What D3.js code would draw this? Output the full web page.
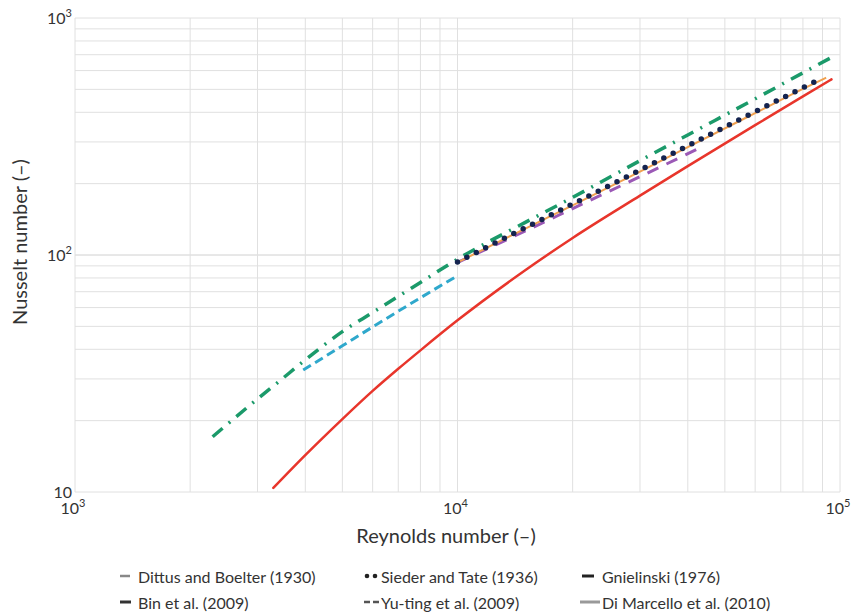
<!DOCTYPE html>
<html><head><meta charset="utf-8">
<script src="https://cdn.jsdelivr.net/npm/d3@7"></script>
<style>
body{margin:0;background:#fff;}
text{font-family:Lato,"Open Sans",sans-serif;fill:#333;}
</style></head>
<body><svg id="c" width="856" height="613"></svg>
<script>
// ---- data ----
const reTicks = [1e3, 1e4, 1e5];
const nuTicks = [10, 100, 1000];
const tickExp = ["3", "4", "5"];
const nuTickLabels = [["10", ""], ["10", "2"], ["10", "3"]];

// Dittus and Boelter (orange, under dots)
const dittusRe = [10000, 15000, 20000, 30000, 40000, 60000, 80000, 92000];
const dittusNu = [93, 129, 162, 225, 285, 397, 502, 560];
// Sieder and Tate (navy dots)
const siederRe = [10000, 15000, 20000, 30000, 40000, 60000, 80000, 89000];
const siederNu = [93.5, 130, 164, 228, 289, 402, 508, 553];
// Gnielinski (green dash-dot)
const gnielRe = [2290, 3000, 3400, 4000, 5000, 6000, 8000, 10000, 15000, 20000, 30000, 40000, 60000, 80000, 98000];
const gnielNu = [17.1, 24.7, 29.1, 36.1, 47.5, 57.2, 76.6, 96, 137, 175, 250, 321, 456, 587, 700];
// Bin et al. (purple dashed)
const binRe = [10000, 15000, 20000, 30000, 43000];
const binNu = [93, 126, 157, 214, 283];
// Yu-ting et al. (cyan dashed)
const yutingRe = [3950, 5000, 6000, 8000, 9900];
const yutingNu = [32.7, 41.4, 49.7, 66, 81];
// Di Marcello et al. (red solid)
const marcRe = [3300, 4000, 5000, 6000, 7000, 8000, 10000, 15000, 20000, 30000, 40000, 60000, 80000, 95000];
const marcNu = [10.4, 14.3, 20.3, 26.7, 33.1, 39.6, 53, 86, 118, 178, 237, 353, 467, 551];

const legendNames = ["Dittus and Boelter (1930)", "Sieder and Tate (1936)", "Gnielinski (1976)",
                     "Bin et al. (2009)", "Yu-ting et al. (2009)", "Di Marcello et al. (2010)"];

// ---- chart ----
const svg = d3.select("#c");
const x = d3.scaleLog().domain([1e3, 1e5]).range([75, 840]);
const y = d3.scaleLog().domain([10, 1000]).range([492, 18]);

// grid
const g = svg.append("g");
const xMinor = [];
for (let d = 1e3; d < 1e5; d *= 10) for (let k = 1; k <= 10; k++) xMinor.push(d * k);
const yMinor = [];
for (let d = 10; d < 1000; d *= 10) for (let k = 1; k <= 10; k++) yMinor.push(d * k);
g.selectAll(".vx").data(xMinor).join("line")
  .attr("x1", d => x(d)).attr("x2", d => x(d)).attr("y1", y(10)).attr("y2", y(1000))
  .attr("stroke", "#e0e0e0").attr("stroke-width", 1);
g.selectAll(".hy").data(yMinor).join("line")
  .attr("y1", d => y(d)).attr("y2", d => y(d)).attr("x1", x(1e3)).attr("x2", x(1e5))
  .attr("stroke", "#e0e0e0").attr("stroke-width", 1);

// tick labels
reTicks.forEach((t, i) => {
  const tx = svg.append("text").attr("x", x(t) - 2).attr("y", 514).attr("text-anchor", "middle")
    .style("font-size", "16px");
  tx.append("tspan").text("10");
  tx.append("tspan").attr("dy", -7).style("font-size", "11px").text(tickExp[i]);
});
nuTicks.forEach((t, i) => {
  const tx = svg.append("text").attr("x", 72).attr("y", y(t) + 6).attr("text-anchor", "end")
    .style("font-size", "16px");
  tx.append("tspan").text(nuTickLabels[i][0]);
  if (nuTickLabels[i][1]) tx.append("tspan").attr("dy", -7).style("font-size", "11px").text(nuTickLabels[i][1]);
});

svg.append("text").attr("x", 446).attr("y", 543).attr("text-anchor", "middle")
  .style("font-size", "20px").text("Reynolds number (–)");
svg.append("text").attr("transform", "translate(27,242) rotate(-90)").attr("text-anchor", "middle")
  .style("font-size", "20px").text("Nusselt number (–)");

const line = d3.line().x(d => x(d[0])).y(d => y(d[1])).curve(d3.curveMonotoneX);
const zip = (a, b) => a.map((v, i) => [v, b[i]]);

const series = [
  {re: marcRe, nu: marcNu, color: "#e8352b", w: 2.5, dash: null, cap: "round"},
  {re: yutingRe, nu: yutingNu, color: "#2fa8cc", w: 3, dash: "9,5", cap: "butt"},
  {re: binRe, nu: binNu, color: "#9b59b6", w: 3, dash: "12,9", cap: "butt"},
  {re: dittusRe, nu: dittusNu, color: "#f0a050", w: 2, dash: null, cap: "butt"},
  {re: gnielRe, nu: gnielNu, color: "#1b9a6a", w: 3.5, dash: "13,8,2,8", cap: "butt"},
  {re: siederRe, nu: siederNu, color: "#14234f", w: 5.5, dash: "0,10.5", cap: "round"},
];
series.forEach(s => {
  svg.append("path").datum(zip(s.re, s.nu)).attr("d", line)
    .attr("fill", "none").attr("stroke", s.color).attr("stroke-width", s.w)
    .attr("stroke-dasharray", s.dash).attr("stroke-linecap", s.cap);
});

// legend
const lg = svg.append("g").style("font-size", "16px");
const cols = [138, 381, 602];
const rows = [577, 603];
legendNames.forEach((n, i) => {
  lg.append("text").attr("x", cols[i % 3]).attr("y", rows[Math.floor(i / 3)] + 6).text(n);
});
// markers
lg.append("line").attr("x1", 120).attr("x2", 130).attr("y1", 576).attr("y2", 576).attr("stroke", "#888").attr("stroke-width", 2.5);
[367, 375].forEach(cx => lg.append("circle").attr("cx", cx).attr("cy", 576).attr("r", 2.3).attr("fill", "#222"));
lg.append("line").attr("x1", 582).attr("x2", 594).attr("y1", 576).attr("y2", 576).attr("stroke", "#222").attr("stroke-width", 3);
lg.append("line").attr("x1", 120).attr("x2", 131).attr("y1", 602).attr("y2", 602).attr("stroke", "#333").attr("stroke-width", 3);
lg.append("line").attr("x1", 364).attr("x2", 379).attr("y1", 602).attr("y2", 602).attr("stroke", "#555").attr("stroke-width", 2.5).attr("stroke-dasharray", "6,3");
lg.append("line").attr("x1", 580).attr("x2", 600).attr("y1", 602).attr("y2", 602).attr("stroke", "#999").attr("stroke-width", 3);
</script></body></html>
